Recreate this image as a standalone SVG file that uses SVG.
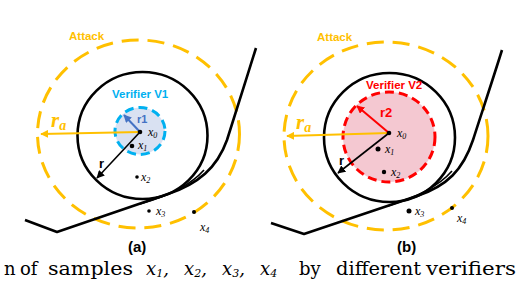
<svg xmlns="http://www.w3.org/2000/svg" width="522" height="282" viewBox="0 0 522 282">
<style>
.atk{fill:none;stroke:#ffc000;stroke-width:3;stroke-dasharray:17 9}
.blk{fill:none;stroke:#000;stroke-width:2.6}
.bnd{fill:none;stroke:#000;stroke-width:2.6;stroke-linejoin:round}
.v1{fill:#d9e1f2;stroke:#00b0f0;stroke-width:3;stroke-dasharray:9 5}
.v2{fill:#f4c8d1;stroke:#ff0000;stroke-width:3;stroke-dasharray:9 5}
.ra{stroke:#ffc000;stroke-width:2;fill:none}
.rr{stroke:#000;stroke-width:1.6;fill:none}
.dot{fill:#000}
.lbl{font-family:"Liberation Sans",Arial,sans-serif;font-weight:bold}
.math{font-family:"Liberation Serif","Times New Roman",serif;font-style:italic;font-size:12px;fill:#000}
.sub{font-size:8px}
.cap{font-family:"DejaVu Serif","Liberation Serif",serif;font-size:18px;fill:#000}
</style>
<defs>
<marker id="ay" viewBox="0 0 10 10" refX="9" refY="5" markerWidth="4" markerHeight="4" orient="auto"><path d="M0,0L10,5L0,10z" fill="#ffc000"/></marker>
<marker id="ak" viewBox="0 0 10 10" refX="9" refY="5" markerWidth="5" markerHeight="5" orient="auto"><path d="M0,0L10,5L0,10z" fill="#000"/></marker>
<marker id="ab" viewBox="0 0 10 10" refX="9" refY="5" markerWidth="4" markerHeight="4" orient="auto"><path d="M0,0L10,5L0,10z" fill="#4472c4"/></marker>
<marker id="ar" viewBox="0 0 10 10" refX="9" refY="5" markerWidth="4" markerHeight="4" orient="auto"><path d="M0,0L10,5L0,10z" fill="#ff0000"/></marker>
</defs>

<!-- Panel (a) -->
<g id="panel-a">
  <g id="a-attack">
    <ellipse class="atk" cx="138.5" cy="134" rx="101" ry="94"/>
    <text class="lbl" x="69" y="40" font-size="11.5" fill="#ffc000">Attack</text>
  </g>
  <g id="a-robust">
    <ellipse class="blk" cx="142.5" cy="135.5" rx="65" ry="63.5"/>
  </g>
  <g id="a-verifier">
    <ellipse class="v1" cx="140" cy="131" rx="25" ry="23.5"/>
    <text class="lbl" x="112" y="98" font-size="11.5" fill="#00b0f0">Verifier V1</text>
  </g>
  <g id="a-boundary">
    <path class="bnd" d="M25,220 L57,232 L168,194 C198,184 217,168 227,140 C234,118 246,80 256,48"/>
    <path fill="none" stroke="#000" stroke-width="1.6" d="M140,204 C168,196 190,186 204,170"/>
  </g>
  <g id="a-connectors">
    <line class="ra" x1="140" y1="132" x2="41" y2="134" marker-end="url(#ay)"/>
    <line class="rr" x1="140" y1="132" x2="97" y2="178" marker-end="url(#ak)"/>
    <line stroke="#4472c4" stroke-width="2" x1="140" y1="132" x2="124" y2="115" marker-end="url(#ab)"/>
  </g>
  <g id="a-labels">
    <text font-family="'Liberation Serif',serif" font-style="italic" font-weight="bold" font-size="21" fill="#ffc000" x="51" y="127">r<tspan font-size="14" dy="3">a</tspan></text>
    <text class="lbl" x="99" y="168" font-size="13" fill="#000">r</text>
    <text class="lbl" x="137" y="123" font-size="11" fill="#4472c4">r1</text>
  </g>
  <g id="a-x0"><circle class="dot" cx="140" cy="132" r="2.3"/><text class="math" x="148" y="136">x<tspan class="sub" dy="2">0</tspan></text></g>
  <g id="a-x1"><circle class="dot" cx="132" cy="146" r="2.3"/><text class="math" x="138" y="149">x<tspan class="sub" dy="2">1</tspan></text></g>
  <g id="a-x2"><circle class="dot" cx="137" cy="177" r="1.8"/><text class="math" x="141" y="181">x<tspan class="sub" dy="2">2</tspan></text></g>
  <g id="a-x3"><circle class="dot" cx="149" cy="211" r="1.8"/><text class="math" x="156" y="215">x<tspan class="sub" dy="2">3</tspan></text></g>
  <g id="a-x4"><circle class="dot" cx="194" cy="212" r="2"/><text class="math" x="200" y="231">x<tspan class="sub" dy="2">4</tspan></text></g>
  <text class="lbl" x="128" y="252" font-size="15" fill="#000">(a)</text>
</g>

<!-- Panel (b) -->
<g id="panel-b">
  <g id="b-attack">
    <ellipse class="atk" cx="386" cy="136" rx="102" ry="94"/>
    <text class="lbl" x="317" y="41" font-size="11.5" fill="#ffc000">Attack</text>
  </g>
  <g id="b-robust">
    <ellipse class="blk" cx="389.5" cy="137.5" rx="65.5" ry="64.5"/>
  </g>
  <g id="b-verifier">
    <ellipse class="v2" cx="389" cy="137" rx="46" ry="45"/>
    <text class="lbl" x="366" y="89" font-size="11.5" fill="#ff0000">Verifier V2</text>
  </g>
  <g id="b-boundary">
    <path class="bnd" d="M271,223 L304,234 L417,196 C447,186 463,170 473,140 C480,118 492,82 502,50"/>
    <path fill="none" stroke="#000" stroke-width="1.6" d="M388,206 C416,197 438,187 452,171"/>
  </g>
  <g id="b-connectors">
    <line class="ra" x1="389" y1="133" x2="287" y2="136" marker-end="url(#ay)"/>
    <line class="rr" x1="389" y1="133" x2="338" y2="173" marker-end="url(#ak)"/>
    <line stroke="#ff0000" stroke-width="2" x1="389" y1="133" x2="357" y2="106" marker-end="url(#ar)"/>
  </g>
  <g id="b-labels">
    <text font-family="'Liberation Serif',serif" font-style="italic" font-weight="bold" font-size="21" fill="#ffc000" x="296" y="129">r<tspan font-size="14" dy="3">a</tspan></text>
    <text class="lbl" x="339" y="165" font-size="13" fill="#000">r</text>
    <text class="lbl" x="380" y="117" font-size="13" fill="#ff0000">r2</text>
  </g>
  <g id="b-x0"><circle class="dot" cx="389" cy="133" r="2.3"/><text class="math" x="397" y="137">x<tspan class="sub" dy="2">0</tspan></text></g>
  <g id="b-x1"><circle class="dot" cx="378" cy="149" r="2.5"/><text class="math" x="385" y="153">x<tspan class="sub" dy="2">1</tspan></text></g>
  <g id="b-x2"><circle class="dot" cx="384" cy="172" r="2.2"/><text class="math" x="391" y="176">x<tspan class="sub" dy="2">2</tspan></text></g>
  <g id="b-x3"><circle class="dot" cx="409" cy="211" r="2.5"/><text class="math" x="415" y="215">x<tspan class="sub" dy="2">3</tspan></text></g>
  <g id="b-x4"><circle class="dot" cx="452" cy="208" r="2"/><text class="math" x="457" y="222">x<tspan class="sub" dy="2">4</tspan></text></g>
  <text class="lbl" x="397" y="252" font-size="15" fill="#000">(b)</text>
</g>

<!-- Caption line (cropped in source) -->
<g id="caption" class="cap">
  <text x="4" y="275">n</text>
  <text x="20" y="275">of</text>
  <text x="48" y="275" textLength="85" lengthAdjust="spacingAndGlyphs">samples</text>
  <text x="146" y="275" font-style="italic">x<tspan font-size="11" dy="2">1</tspan><tspan dy="-2">,</tspan></text>
  <text x="184" y="275" font-style="italic">x<tspan font-size="11" dy="2">2</tspan><tspan dy="-2">,</tspan></text>
  <text x="222" y="275" font-style="italic">x<tspan font-size="11" dy="2">3</tspan><tspan dy="-2">,</tspan></text>
  <text x="260" y="275" font-style="italic">x<tspan font-size="11" dy="2">4</tspan></text>
  <text x="299" y="275">by</text>
  <text x="336" y="275" textLength="85" lengthAdjust="spacingAndGlyphs">different</text>
  <text x="426" y="275" textLength="90" lengthAdjust="spacingAndGlyphs">verifiers</text>
</g>
</svg>
